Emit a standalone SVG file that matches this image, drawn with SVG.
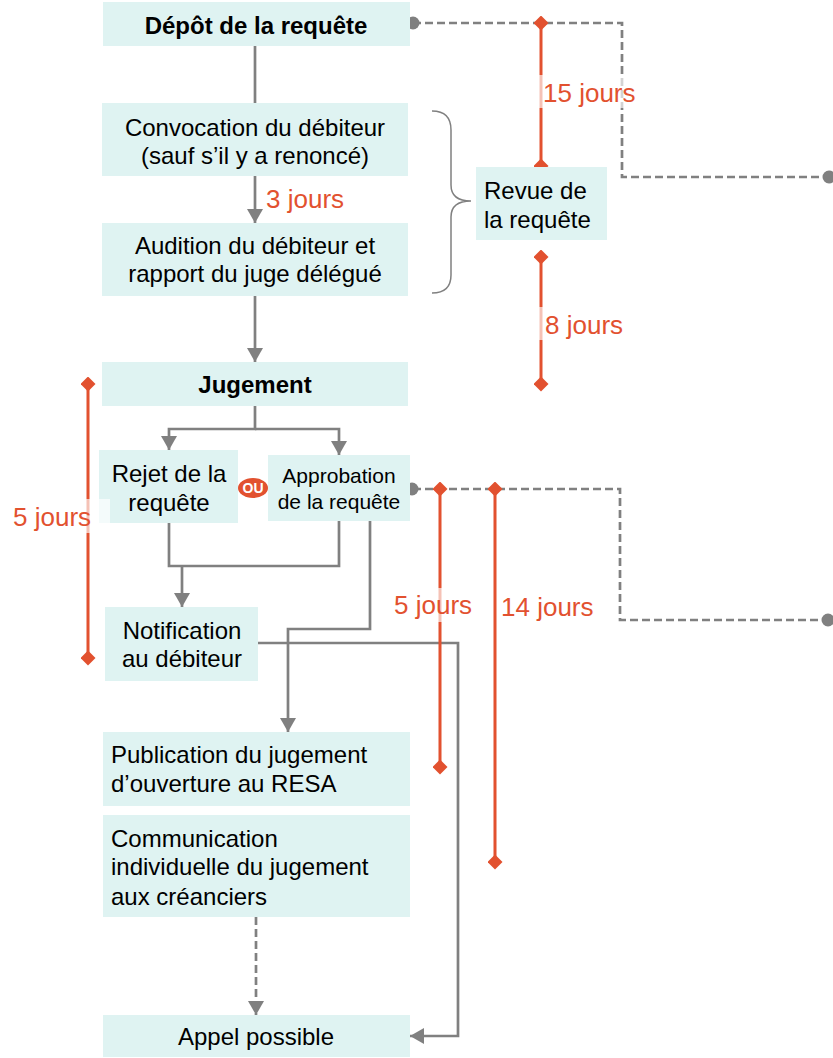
<svg xmlns="http://www.w3.org/2000/svg" width="833" height="1058" viewBox="0 0 833 1058">
<defs>
<style>
.box{fill:#dff3f2}
.t{font-family:"Liberation Sans",Arial,sans-serif;font-size:24px;fill:#000}
.b{font-weight:bold}
.c{text-anchor:middle}
.s{font-size:21px}
.red{font-family:"Liberation Sans",Arial,sans-serif;font-size:26px;fill:#e2512f}
.ln{fill:none;stroke:#808080;stroke-width:2.7}
.dash{fill:none;stroke:#808080;stroke-width:2.7;stroke-dasharray:8 4}
.dim{fill:none;stroke:#e2512f;stroke-width:3}
.lbg{fill:#fff;fill-opacity:0.65}
</style>
<marker id="arr" viewBox="0 0 14 16" refX="14" refY="8" markerWidth="14" markerHeight="16" orient="auto" markerUnits="userSpaceOnUse">
<path d="M0,0 L14,8 L0,16 z" fill="#808080"/>
</marker>
<marker id="dia" viewBox="0 0 15 15" refX="7.5" refY="7.5" markerWidth="15" markerHeight="15" orient="auto" markerUnits="userSpaceOnUse">
<path d="M0,7.5 L7.5,0 L15,7.5 L7.5,15 z" fill="#e2512f"/>
</marker>
</defs>
<g id="connectors">
<path class="ln" d="M255,46 V103"/>
<path class="ln" d="M255,176 V223" marker-end="url(#arr)"/>
<path class="ln" d="M255,296 V362" marker-end="url(#arr)"/>
<path class="ln" d="M255,406 V429 H169 V450" marker-end="url(#arr)"/>
<path class="ln" d="M255,429 H339 V455" marker-end="url(#arr)"/>
<path class="ln" d="M169,523 V566 H339 V520"/>
<path class="ln" d="M182,566 V607" marker-end="url(#arr)"/>
<path class="ln" d="M370,520 V629 H288 V732" marker-end="url(#arr)"/>
<path class="ln" d="M257,643 H458 V1036 H410" marker-end="url(#arr)"/>
<path class="dash" d="M256,917 V1015" marker-end="url(#arr)"/>
<path fill="none" stroke="#808080" stroke-width="1.5" d="M432,111 Q451,111 451,130 L451,185 Q451,201 471,201 Q451,201 451,217 L451,275 Q451,293 432,293"/>
<path class="dash" d="M413,23 H622 V177 H829"/>
<circle cx="413" cy="23" r="6.5" fill="#808080"/>
<circle cx="829" cy="177" r="6.5" fill="#808080"/>
<path class="dash" d="M413,489 H620 V620 H828"/>
<circle cx="412" cy="489" r="6.5" fill="#808080"/>
<circle cx="828" cy="620" r="6.5" fill="#808080"/>
<path class="dim" d="M541,23 V166" marker-start="url(#dia)" marker-end="url(#dia)"/>
<path class="dim" d="M541,257 V384" marker-start="url(#dia)" marker-end="url(#dia)"/>
<path class="dim" d="M88,384 V658" marker-start="url(#dia)" marker-end="url(#dia)"/>
<path class="dim" d="M440,489 V767" marker-start="url(#dia)" marker-end="url(#dia)"/>
<path class="dim" d="M495,489 V862" marker-start="url(#dia)" marker-end="url(#dia)"/>
</g>
<g id="depot"><rect class="box" x="103" y="2" width="307" height="44"/><text class="t b c" x="256" y="34">Dépôt de la requête</text></g>
<g id="convocation"><rect class="box" x="102" y="103" width="306" height="73"/><text class="t c" x="255" y="136">Convocation du débiteur</text><text class="t c" x="255" y="164">(sauf s’il y a renoncé)</text></g>
<g id="audition"><rect class="box" x="102" y="223" width="306" height="73"/><text class="t c" x="255" y="254">Audition du débiteur et</text><text class="t c" x="255" y="282">rapport du juge délégué</text></g>
<g id="revue"><rect class="box" x="476" y="167" width="131" height="73"/><text class="t" x="484" y="199">Revue de</text><text class="t" x="484" y="228">la requête</text></g>
<g id="jugement"><rect class="box" x="102" y="362" width="306" height="44"/><text class="t b c" x="255" y="393">Jugement</text></g>
<g id="rejet"><rect class="box" x="99" y="450" width="139" height="73"/><text class="t c" x="169" y="482">Rejet de la</text><text class="t c" x="169" y="511">requête</text></g>
<g id="approbation"><rect class="box" x="268" y="455" width="142" height="66"/><text class="t s c" x="339" y="483">Approbation</text><text class="t s c" x="339" y="509">de la requête</text></g>
<g id="ou"><ellipse cx="253" cy="488" rx="15" ry="10" fill="#e2512f"/><text x="253" y="493" text-anchor="middle" font-family="Liberation Sans,Arial,sans-serif" font-size="14" font-weight="bold" fill="#fff">OU</text></g>
<g id="notification"><rect class="box" x="105" y="607" width="153" height="74"/><text class="t c" x="182" y="639">Notification</text><text class="t c" x="182" y="667">au débiteur</text></g>
<g id="publication"><rect class="box" x="103" y="732" width="307" height="74"/><text class="t" x="111" y="763">Publication du jugement</text><text class="t" x="111" y="792">d’ouverture au RESA</text></g>
<g id="communication"><rect class="box" x="103" y="815" width="307" height="102"/><text class="t" x="111" y="847">Communication</text><text class="t" x="111" y="875">individuelle du jugement</text><text class="t" x="111" y="905">aux créanciers</text></g>
<g id="appel"><rect class="box" x="103" y="1015" width="307" height="42"/><text class="t c" x="256" y="1045">Appel possible</text></g>
<g id="labels">
<rect class="lbg" x="539" y="75" width="100" height="33"/><text class="red" x="543" y="102">15 jours</text>
<rect class="lbg" x="539" y="307" width="86" height="33"/><text class="red" x="545" y="334">8 jours</text>
<text class="red" x="266" y="208">3 jours</text>
<rect class="lbg" x="10" y="499" width="100" height="34"/><text class="red" x="13" y="526">5 jours</text>
<rect class="lbg" x="391" y="588" width="84" height="34"/><text class="red" x="394" y="614">5 jours</text>
<rect class="lbg" x="499" y="590" width="96" height="34"/><text class="red" x="501" y="616">14 jours</text>
</g>
</svg>
